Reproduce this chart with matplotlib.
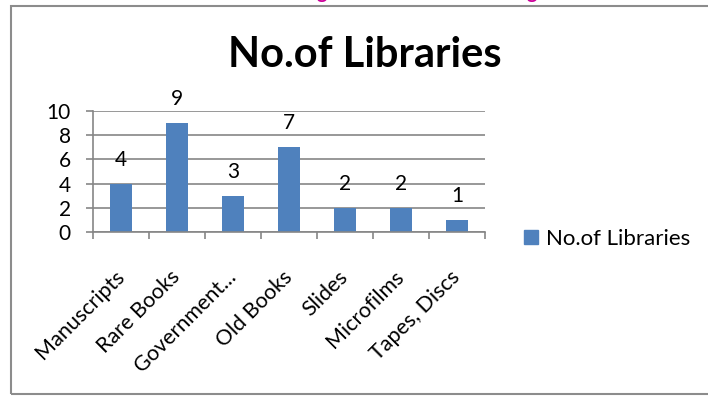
import matplotlib.pyplot as plt
import matplotlib.transforms as mtransforms
from matplotlib.patches import Rectangle, Patch
import numpy as np

# counts of libraries holding each kind of material
categories = ["Manuscripts", "Rare Books", "Government...", "Old Books",
              "Slides", "Microfilms", "Tapes, Discs"]
libraries = [4, 9, 3, 7, 2, 2, 1]
series_name = "No.of Libraries"

bar_color = "#4F81BD"
grid_color = "#868686"
plt.rcParams['font.family'] = ['Lato', 'DejaVu Sans']

fig = plt.figure(figsize=(7.08, 3.96), dpi=100)

# outer chart frame
fig.patches.append(Rectangle((11 / 708, 2 / 396), 1.2, 388 / 396, transform=fig.transFigure,
                             fill=False, edgecolor="#8C8C8C", linewidth=1.5, zorder=0))

# bits of the heading above the chart
for gx in (322, 532):
    fig.text(gx / 708, 1.0 + 1 / 396, "g", color="#CC0099", fontsize=14,
             fontweight="bold", ha="center", va="baseline")

ax = fig.add_axes([93 / 708, (396 - 232) / 396, 392 / 708, 121 / 396])
x = np.arange(len(categories))
ax.bar(x, libraries, width=0.4, color=bar_color, zorder=2)

ax.set_xlim(-0.5, len(categories) - 0.5)
ax.set_ylim(0, 10)
ax.set_yticks(range(0, 11, 2))
ax.yaxis.grid(True, color=grid_color, linewidth=1.2, zorder=0)

for side in ("top", "right"):
    ax.spines[side].set_visible(False)
ax.spines["left"].set_color(grid_color)
ax.spines["bottom"].set_color(grid_color)
ax.spines["left"].set_linewidth(1.2)
ax.spines["bottom"].set_linewidth(1.2)

ax.tick_params(axis="y", length=5, width=1.2, color=grid_color, pad=11, labelsize=15)

# tick marks between categories, labels at the centres
ax.set_xticks(np.arange(-0.5, len(categories), 1.0))
ax.set_xticklabels([])
ax.tick_params(axis="x", which="major", length=5, width=1.2, color=grid_color)
ax.set_xticks(x, minor=True)
ax.set_xticklabels(categories, minor=True, rotation=45, ha="right", va="top",
                   rotation_mode="anchor", fontsize=15.5)
ax.tick_params(axis="x", which="minor", length=0, pad=25)
shift = mtransforms.ScaledTranslation(-7 / 100, 0, fig.dpi_scale_trans)
for lab in ax.get_xticklabels(minor=True):
    lab.set_transform(lab.get_transform() + shift)

for xi, v in zip(x, libraries):
    ax.annotate(str(v), (xi, v), xytext=(0, 13), textcoords="offset points",
                ha="center", va="baseline", fontsize=15)

fig.text(365 / 708, 1 - 67 / 396, series_name, fontsize=30, fontweight="bold",
         ha="center", va="baseline")

fig.legend(handles=[Patch(color=bar_color, label=series_name)], loc="center left",
           bbox_to_anchor=(524 / 708, 1 - 239 / 396), frameon=False, fontsize=16,
           handlelength=0.62, handleheight=0.62, handletextpad=0.35, borderaxespad=0,
           borderpad=0)

fig.savefig("out.png", dpi=100)
